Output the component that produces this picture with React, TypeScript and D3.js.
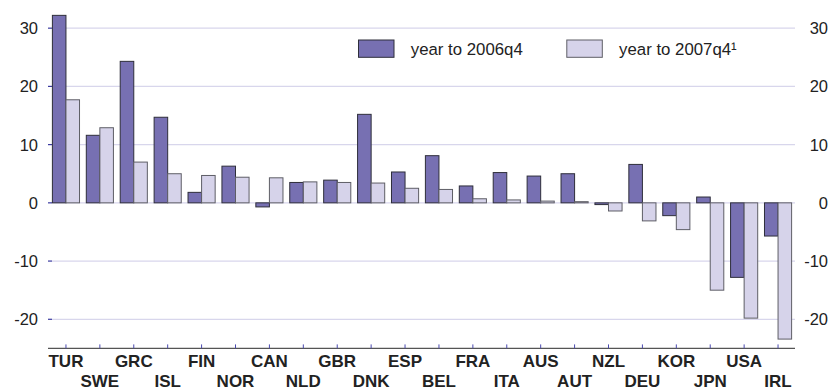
import React from "react";
import * as d3 from "d3";

const countries = ["TUR","SWE","GRC","ISL","FIN","NOR","CAN","NLD","GBR","DNK","ESP","BEL","FRA","ITA","AUS","AUT","NZL","DEU","KOR","JPN","USA","IRL"];
const y2006 = [32.2,11.6,24.3,14.7,1.8,6.3,-0.7,3.5,3.9,15.2,5.3,8.1,2.9,5.2,4.6,5.0,-0.3,6.6,-2.2,1.0,-12.8,-5.7];
const y2007 = [17.7,12.9,7.0,5.0,4.7,4.4,4.3,3.6,3.5,3.4,2.5,2.3,0.7,0.5,0.3,0.2,-1.4,-3.1,-4.6,-15.0,-19.8,-23.4];
const yTicks = [30,20,10,0,-10,-20];
const seriesNames = ["year to 2006q4","year to 2007q4\u00b9"];
const seriesFill = ["#7770b2","#d6d3ea"];
const seriesStroke = ["#2e2e3a","#5e5e66"];

export default function App() {
  const W = 833, H = 389;
  const left = 49, right = 795;
  const y = d3.scaleLinear().domain([-25, 33]).range([348.4, 10.7]);
  const x = d3.scaleBand<string>().domain(countries).range([left, right]).paddingInner(0.2).paddingOuter(0.1);
  const sub = d3.scaleBand<number>().domain([0, 1]).range([0, x.bandwidth()]);
  const font = "'Liberation Sans', Arial, Helvetica, sans-serif";
  const series = [y2006, y2007];
  return (
    <svg width={W} height={H} style={{ position: "absolute", left: 0, top: 0, background: "#fff" }} fontFamily={font}>
      {yTicks.map((t) => (
        <g key={t}>
          <line x1={left + 3} x2={right} y1={y(t)} y2={y(t)} stroke="#d8d6ec" strokeWidth={1.2} />
          <line x1={left - 1} x2={left + 3} y1={y(t)} y2={y(t)} stroke="#3a3aa0" strokeWidth={1.2} />
          <text x={38} y={y(t)} dy="0.36em" textAnchor="end" fontSize={16.5} fill="#222">{t}</text>
          <text x={828} y={y(t)} dy="0.36em" textAnchor="end" fontSize={16.5} fill="#222">{t}</text>
        </g>
      ))}
      {series.map((vals, si) => (
        <g key={si}>
          {vals.map((v, i) => {
            const x0 = (x(countries[i]) as number) + (sub(si) as number);
            const y0 = y(Math.max(0, v));
            const h = Math.abs(y(v) - y(0));
            return (
              <rect key={i} x={x0} y={y0} width={sub.bandwidth()} height={Math.max(h, 0.5)}
                fill={seriesFill[si]} stroke={seriesStroke[si]} strokeWidth={1} />
            );
          })}
        </g>
      ))}
      <line x1={left - 1} x2={right} y1={y(-25)} y2={y(-25)} stroke="#555" strokeWidth={1.3} />
      {countries.map((c, i) => {
        const cx = (x(c) as number) + x.bandwidth() / 2;
        return (
          <g key={c}>
            <line x1={cx} x2={cx} y1={y(-25)} y2={y(-25) - 4} stroke="#4a4ab0" strokeWidth={1} />
            <text x={cx} y={i % 2 === 0 ? 366.5 : 386.5} textAnchor="middle" fontSize={17} fontWeight="bold" fill="#222">{c}</text>
          </g>
        );
      })}
      {seriesNames.map((n, si) => {
        const lx = si === 0 ? 358.5 : 566.8;
        return (
          <g key={n}>
            <rect x={lx} y={40} width={35.5} height={17.3} fill={seriesFill[si]} stroke={seriesStroke[si]} strokeWidth={1} />
            <text x={lx + 52.3} y={55} fontSize={16.8} fill="#222">{n}</text>
          </g>
        );
      })}
    </svg>
  );
}
